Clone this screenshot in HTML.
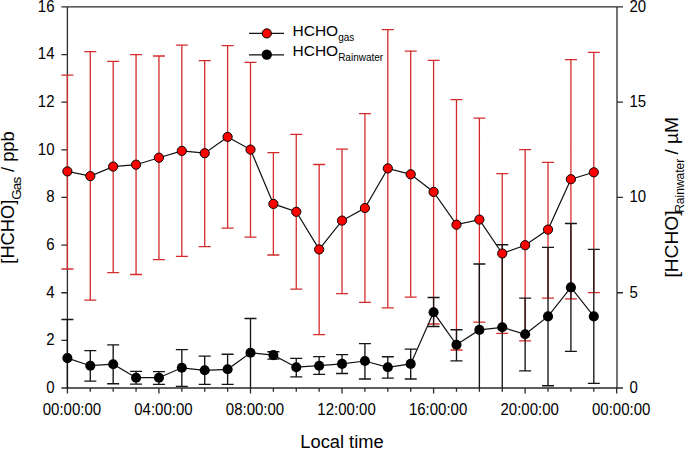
<!DOCTYPE html>
<html><head><meta charset="utf-8"><style>
html,body{margin:0;padding:0;background:#fff;}
svg{display:block;font-family:"Liberation Sans",sans-serif;}
</style></head><body>
<svg width="685" height="449" viewBox="0 0 685 449">
<path d="M67.4 6.9V388M617 6.9V388M67.4 6.9H617M61.4 388H623M61.4 388H67.4M61.4 340.36H67.4M61.4 292.73H67.4M61.4 245.09H67.4M61.4 197.45H67.4M61.4 149.81H67.4M61.4 102.17H67.4M61.4 54.54H67.4M61.4 6.9H67.4M617 388H623M617 292.73H623M617 197.45H623M617 102.18H623M617 6.9H623M67.4 388V393.6M90.29 388V391.8M113.17 388V391.8M136.06 388V391.8M158.95 388V393.6M181.84 388V391.8M204.72 388V391.8M227.61 388V391.8M250.5 388V393.6M273.38 388V391.8M296.27 388V391.8M319.16 388V391.8M342.04 388V393.6M364.93 388V391.8M387.82 388V391.8M410.71 388V391.8M433.59 388V393.6M456.48 388V391.8M479.37 388V391.8M502.25 388V391.8M525.14 388V393.6M548.03 388V391.8M570.91 388V391.8M593.8 388V391.8M616.69 388V393.6" stroke="#2a2a2a" stroke-width="1.3" fill="none"/>
<path d="M67.4 75.1V269M61.4 75.1H73.4M61.4 269H73.4M90.29 51.6V300.1M84.29 51.6H96.29M84.29 300.1H96.29M113.17 61.3V272.6M107.17 61.3H119.17M107.17 272.6H119.17M136.06 54.6V274.5M130.06 54.6H142.06M130.06 274.5H142.06M158.95 56V259.7M152.95 56H164.95M152.95 259.7H164.95M181.84 45.2V256.3M175.84 45.2H187.84M175.84 256.3H187.84M204.72 60.7V246.6M198.72 60.7H210.72M198.72 246.6H210.72M227.61 45.7V228.2M221.61 45.7H233.61M221.61 228.2H233.61M250.5 62.4V237.1M244.5 62.4H256.5M244.5 237.1H256.5M273.38 152.7V255M267.38 152.7H279.38M267.38 255H279.38M296.27 134.4V289.2M290.27 134.4H302.27M290.27 289.2H302.27M319.16 164.5V334.6M313.16 164.5H325.16M313.16 334.6H325.16M342.04 149.2V293.6M336.04 149.2H348.04M336.04 293.6H348.04M364.93 113.7V302.4M358.93 113.7H370.93M358.93 302.4H370.93M387.82 29.6V307.8M381.82 29.6H393.82M381.82 307.8H393.82M410.71 51.2V297.2M404.71 51.2H416.71M404.71 297.2H416.71M433.59 60.3V324M427.59 60.3H439.59M427.59 324H439.59M456.48 99.7V350M450.48 99.7H462.48M450.48 350H462.48M479.37 118.1V322.1M473.37 118.1H485.37M473.37 322.1H485.37M502.25 173.7V333.3M496.25 173.7H508.25M496.25 333.3H508.25M525.14 149.6V340.9M519.14 149.6H531.14M519.14 340.9H531.14M548.03 162.4V298.1M542.03 162.4H554.03M542.03 298.1H554.03M570.91 59.6V298.8M564.91 59.6H576.91M564.91 298.8H576.91M593.8 52.3V292.7M587.8 52.3H599.8M587.8 292.7H599.8" stroke="#d42c2c" stroke-width="1.3" fill="none"/>
<path d="M67.4 319.5V388M61.4 319.5H73.4M90.29 350.6V381.1M84.29 350.6H96.29M84.29 381.1H96.29M113.17 344.9V383.7M107.17 344.9H119.17M107.17 383.7H119.17M136.06 371.4V384.1M130.06 371.4H142.06M130.06 384.1H142.06M158.95 371.6V384.3M152.95 371.6H164.95M152.95 384.3H164.95M181.84 349.6V386.4M175.84 349.6H187.84M175.84 386.4H187.84M204.72 356.1V384.3M198.72 356.1H210.72M198.72 384.3H210.72M227.61 354.2V384.3M221.61 354.2H233.61M221.61 384.3H233.61M250.5 318.5V388M244.5 318.5H256.5M273.38 351.7V359.1M267.38 351.7H279.38M267.38 359.1H279.38M296.27 358.3V376.9M290.27 358.3H302.27M290.27 376.9H302.27M319.16 356.6V374.4M313.16 356.6H325.16M313.16 374.4H325.16M342.04 354.6V373.5M336.04 354.6H348.04M336.04 373.5H348.04M364.93 343.6V379M358.93 343.6H370.93M358.93 379H370.93M387.82 356.7V378.1M381.82 356.7H393.82M381.82 378.1H393.82M410.71 349.1V379M404.71 349.1H416.71M404.71 379H416.71M433.59 297.5V326.5M427.59 297.5H439.59M427.59 326.5H439.59M456.48 329.7V360.8M450.48 329.7H462.48M450.48 360.8H462.48M479.37 264V388M473.37 264H485.37M502.25 244.7V388M496.25 244.7H508.25M525.14 298.1V370.8M519.14 298.1H531.14M519.14 370.8H531.14M548.03 247.3V385.7M542.03 247.3H554.03M542.03 385.7H554.03M570.91 223.5V351.4M564.91 223.5H576.91M564.91 351.4H576.91M593.8 249.3V383.4M587.8 249.3H599.8M587.8 383.4H599.8" stroke="#151515" stroke-width="1.35" fill="none"/>
<polyline points="67.4,358.1 90.29,365.7 113.17,364.2 136.06,377.7 158.95,377.7 181.84,367.8 204.72,370.3 227.61,369.3 250.5,352.8 273.38,355.1 296.27,367.2 319.16,365.7 342.04,363.9 364.93,361 387.82,367.3 410.71,363.9 433.59,312.3 456.48,344.8 479.37,329.9 502.25,327.3 525.14,334.3 548.03,316.4 570.91,287.4 593.8,316.4" stroke="#111" stroke-width="1.2" fill="none"/>
<circle cx="67.4" cy="358.1" r="5.05"/>
<circle cx="90.29" cy="365.7" r="5.05"/>
<circle cx="113.17" cy="364.2" r="5.05"/>
<circle cx="136.06" cy="377.7" r="5.05"/>
<circle cx="158.95" cy="377.7" r="5.05"/>
<circle cx="181.84" cy="367.8" r="5.05"/>
<circle cx="204.72" cy="370.3" r="5.05"/>
<circle cx="227.61" cy="369.3" r="5.05"/>
<circle cx="250.5" cy="352.8" r="5.05"/>
<circle cx="273.38" cy="355.1" r="5.05"/>
<circle cx="296.27" cy="367.2" r="5.05"/>
<circle cx="319.16" cy="365.7" r="5.05"/>
<circle cx="342.04" cy="363.9" r="5.05"/>
<circle cx="364.93" cy="361" r="5.05"/>
<circle cx="387.82" cy="367.3" r="5.05"/>
<circle cx="410.71" cy="363.9" r="5.05"/>
<circle cx="433.59" cy="312.3" r="5.05"/>
<circle cx="456.48" cy="344.8" r="5.05"/>
<circle cx="479.37" cy="329.9" r="5.05"/>
<circle cx="502.25" cy="327.3" r="5.05"/>
<circle cx="525.14" cy="334.3" r="5.05"/>
<circle cx="548.03" cy="316.4" r="5.05"/>
<circle cx="570.91" cy="287.4" r="5.05"/>
<circle cx="593.8" cy="316.4" r="5.05"/>
<polyline points="67.4,171.4 90.29,176.1 113.17,166.6 136.06,164.7 158.95,157.7 181.84,150.9 204.72,153.2 227.61,136.9 250.5,149.6 273.38,203.9 296.27,211.8 319.16,249.4 342.04,220.6 364.93,208 387.82,168.4 410.71,174.3 433.59,191.9 456.48,224.7 479.37,219.6 502.25,253.5 525.14,245.2 548.03,229.6 570.91,179.2 593.8,172.3" stroke="#111" stroke-width="1.2" fill="none"/>
<circle cx="67.4" cy="171.4" r="4.6" fill="#f00" stroke="#000" stroke-width="1"/>
<circle cx="90.29" cy="176.1" r="4.6" fill="#f00" stroke="#000" stroke-width="1"/>
<circle cx="113.17" cy="166.6" r="4.6" fill="#f00" stroke="#000" stroke-width="1"/>
<circle cx="136.06" cy="164.7" r="4.6" fill="#f00" stroke="#000" stroke-width="1"/>
<circle cx="158.95" cy="157.7" r="4.6" fill="#f00" stroke="#000" stroke-width="1"/>
<circle cx="181.84" cy="150.9" r="4.6" fill="#f00" stroke="#000" stroke-width="1"/>
<circle cx="204.72" cy="153.2" r="4.6" fill="#f00" stroke="#000" stroke-width="1"/>
<circle cx="227.61" cy="136.9" r="4.6" fill="#f00" stroke="#000" stroke-width="1"/>
<circle cx="250.5" cy="149.6" r="4.6" fill="#f00" stroke="#000" stroke-width="1"/>
<circle cx="273.38" cy="203.9" r="4.6" fill="#f00" stroke="#000" stroke-width="1"/>
<circle cx="296.27" cy="211.8" r="4.6" fill="#f00" stroke="#000" stroke-width="1"/>
<circle cx="319.16" cy="249.4" r="4.6" fill="#f00" stroke="#000" stroke-width="1"/>
<circle cx="342.04" cy="220.6" r="4.6" fill="#f00" stroke="#000" stroke-width="1"/>
<circle cx="364.93" cy="208" r="4.6" fill="#f00" stroke="#000" stroke-width="1"/>
<circle cx="387.82" cy="168.4" r="4.6" fill="#f00" stroke="#000" stroke-width="1"/>
<circle cx="410.71" cy="174.3" r="4.6" fill="#f00" stroke="#000" stroke-width="1"/>
<circle cx="433.59" cy="191.9" r="4.6" fill="#f00" stroke="#000" stroke-width="1"/>
<circle cx="456.48" cy="224.7" r="4.6" fill="#f00" stroke="#000" stroke-width="1"/>
<circle cx="479.37" cy="219.6" r="4.6" fill="#f00" stroke="#000" stroke-width="1"/>
<circle cx="502.25" cy="253.5" r="4.6" fill="#f00" stroke="#000" stroke-width="1"/>
<circle cx="525.14" cy="245.2" r="4.6" fill="#f00" stroke="#000" stroke-width="1"/>
<circle cx="548.03" cy="229.6" r="4.6" fill="#f00" stroke="#000" stroke-width="1"/>
<circle cx="570.91" cy="179.2" r="4.6" fill="#f00" stroke="#000" stroke-width="1"/>
<circle cx="593.8" cy="172.3" r="4.6" fill="#f00" stroke="#000" stroke-width="1"/>
<g font-size="15"><text transform="translate(54.5,392.9) scale(1,1.08)" text-anchor="end">0</text><text transform="translate(54.5,345.26) scale(1,1.08)" text-anchor="end">2</text><text transform="translate(54.5,297.62) scale(1,1.08)" text-anchor="end">4</text><text transform="translate(54.5,249.99) scale(1,1.08)" text-anchor="end">6</text><text transform="translate(54.5,202.35) scale(1,1.08)" text-anchor="end">8</text><text transform="translate(54.5,154.71) scale(1,1.08)" text-anchor="end">10</text><text transform="translate(54.5,107.07) scale(1,1.08)" text-anchor="end">12</text><text transform="translate(54.5,59.44) scale(1,1.08)" text-anchor="end">14</text><text transform="translate(54.5,11.8) scale(1,1.08)" text-anchor="end">16</text><text transform="translate(629.5,392.9) scale(1,1.08)">0</text><text transform="translate(629.5,297.62) scale(1,1.08)">5</text><text transform="translate(629.5,202.35) scale(1,1.08)">10</text><text transform="translate(629.5,107.08) scale(1,1.08)">15</text><text transform="translate(629.5,11.8) scale(1,1.08)">20</text><text transform="translate(71.9,414.5) scale(1,1.08)" text-anchor="middle">00:00:00</text><text transform="translate(163.45,414.5) scale(1,1.08)" text-anchor="middle">04:00:00</text><text transform="translate(255,414.5) scale(1,1.08)" text-anchor="middle">08:00:00</text><text transform="translate(346.54,414.5) scale(1,1.08)" text-anchor="middle">12:00:00</text><text transform="translate(438.09,414.5) scale(1,1.08)" text-anchor="middle">16:00:00</text><text transform="translate(529.64,414.5) scale(1,1.08)" text-anchor="middle">20:00:00</text><text transform="translate(621.19,414.5) scale(1,1.08)" text-anchor="middle">00:00:00</text></g>
<text x="342" y="447.6" text-anchor="middle" font-size="18.3">Local time</text>
<text transform="translate(14.2,263.7) rotate(-90)" font-size="18.3">[HCHO]</text>
<text transform="translate(20.6,199.8) rotate(-90)" font-size="13.5" letter-spacing="-0.9">Gas</text>
<text transform="translate(14.2,172) rotate(-90)" font-size="18.3">/ ppb</text>
<text transform="translate(677.6,277.6) rotate(-90)" font-size="19.2">[HCHO]</text>
<text transform="translate(684.1,212.8) rotate(-90)" font-size="12.0">Rainwater</text>
<text transform="translate(677.6,154.6) rotate(-90)" font-size="19.2">/ µM</text>
<path d="M249 33.4H284M249 54.8H284" stroke="#111" stroke-width="1.2"/>
<circle cx="266.8" cy="33.4" r="4.6" fill="#f00" stroke="#000" stroke-width="1"/>
<circle cx="266.8" cy="54.6" r="5.15"/>
<text x="292.5" y="35.5" font-size="15.5">HCHO<tspan font-size="10" dy="5.3">gas</tspan></text>
<text x="292.5" y="56.1" font-size="15.5">HCHO<tspan font-size="10" dy="5.3">Rainwater</tspan></text>
</svg>
</body></html>
